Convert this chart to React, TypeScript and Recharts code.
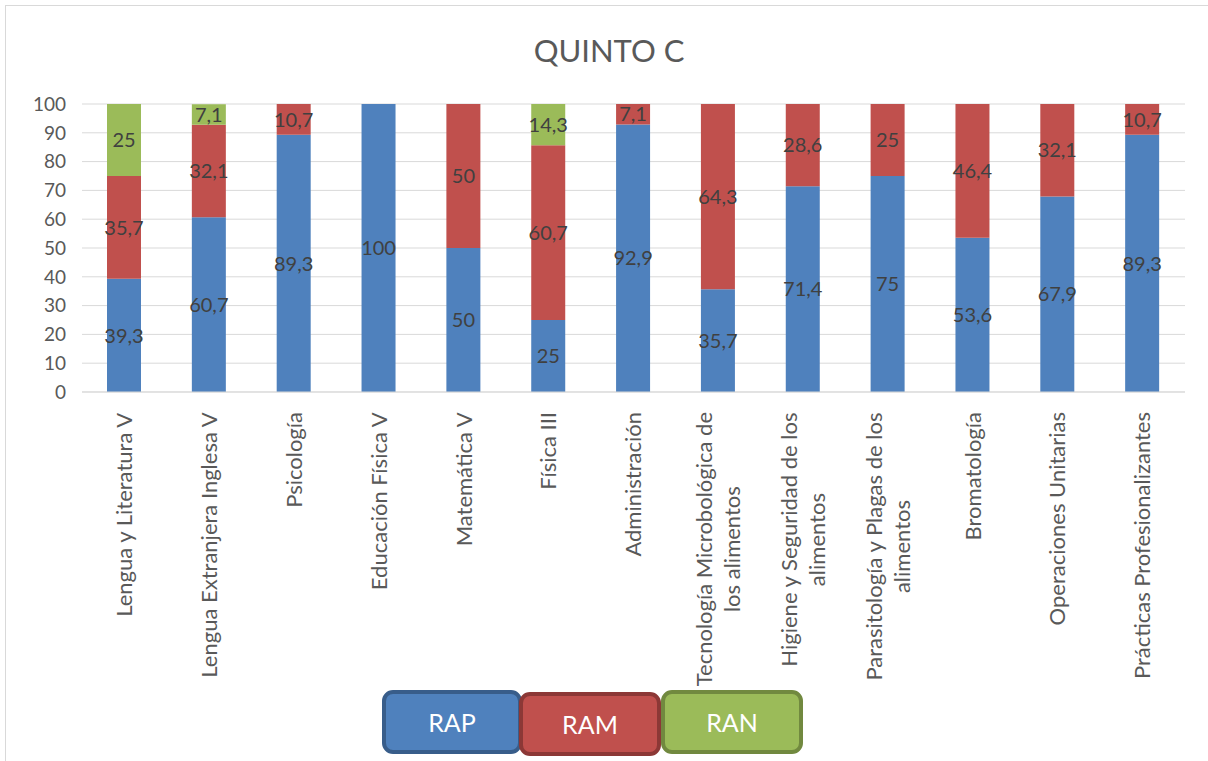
import { BarChart, Bar, XAxis, YAxis, CartesianGrid, Legend, LabelList } from 'recharts';

const categories = [
  'Lengua y Literatura V',
  'Lengua Extranjera Inglesa V',
  'Psicología',
  'Educación Física V',
  'Matemática V',
  'Física III',
  'Administración',
  'Tecnología Microbológica de los alimentos',
  'Higiene y Seguridad de los alimentos',
  'Parasitología y Plagas de los alimentos',
  'Bromatología',
  'Operaciones Unitarias',
  'Prácticas Profesionalizantes',
];

// how each category label wraps on the axis
const tickLines = [
  ['Lengua y Literatura V'],
  ['Lengua Extranjera Inglesa V'],
  ['Psicología'],
  ['Educación Física V'],
  ['Matemática V'],
  ['Física III'],
  ['Administración'],
  ['Tecnología Microbológica de', 'los alimentos'],
  ['Higiene y Seguridad de los', 'alimentos'],
  ['Parasitología y Plagas de los', 'alimentos'],
  ['Bromatología'],
  ['Operaciones Unitarias'],
  ['Prácticas Profesionalizantes'],
];

const rap = [39.3, 60.7, 89.3, 100, 50, 25, 92.9, 35.7, 71.4, 75, 53.6, 67.9, 89.3];
const ram = [35.7, 32.1, 10.7, 0, 50, 60.7, 7.1, 64.3, 28.6, 25, 46.4, 32.1, 10.7];
const ran = [25, 7.1, 0, 0, 0, 14.3, 0, 0, 0, 0, 0, 0, 0];

const yTicks = [0, 10, 20, 30, 40, 50, 60, 70, 80, 90, 100];

const data = categories.map((name, i) => ({ name, RAP: rap[i], RAM: ram[i], RAN: ran[i] }));

const FONT = 'Lato, "Open Sans", sans-serif';
const TEXT = '#595959';

const series = [
  { key: 'RAP', fill: '#4F81BD', border: '#385D8A' },
  { key: 'RAM', fill: '#C0504D', border: '#8C3836' },
  { key: 'RAN', fill: '#9BBB59', border: '#71893F' },
];

// legend boxes, placed like the original (they overlap slightly)
const legendBoxes = [
  { left: 0, top: 0, width: 140 },
  { left: 137, top: 2, width: 142 },
  { left: 279, top: 0, width: 142 },
];

let ctx: CanvasRenderingContext2D | null = null;
function textWidth(s: string, size: number) {
  if (!ctx) ctx = document.createElement('canvas').getContext('2d');
  if (!ctx) return s.length * size * 0.5;
  ctx.font = `${size}px Lato`;
  return ctx.measureText(s).width;
}

const XTick = (props: any) => {
  const { x, y, payload } = props;
  const idx = categories.indexOf(payload.value);
  const lines = tickLines[idx] || [String(payload.value)];
  const size = 22;
  const maxW = Math.max(...lines.map((l) => textWidth(l, size)));
  const cx = -(18 + maxW / 2);
  return (
    <g transform={`translate(${x},${y})`}>
      {lines.map((l, i) => (
        <text
          key={i}
          transform="rotate(-90)"
          x={cx}
          y={(i - (lines.length - 1) / 2) * 28}
          dy="0.35em"
          textAnchor="middle"
          fontSize={size}
          fill={TEXT}
          fontFamily={FONT}
        >
          {l}
        </text>
      ))}
    </g>
  );
};

const fmt = (v: any) => (v ? String(v).replace('.', ',') : '');

const LegendBoxes = () => (
  <div style={{ position: 'relative', width: 422, height: 66 }}>
    {series.map((s, i) => (
      <div
        key={s.key}
        style={{
          position: 'absolute',
          left: legendBoxes[i].left,
          top: legendBoxes[i].top,
          width: legendBoxes[i].width,
          height: 64,
          boxSizing: 'border-box',
          background: s.fill,
          border: `4px solid ${s.border}`,
          borderRadius: 11,
          color: '#fff',
          fontFamily: FONT,
          fontSize: 25,
          display: 'flex',
          alignItems: 'center',
          justifyContent: 'center',
        }}
      >
        {s.key}
      </div>
    ))}
  </div>
);

export default function App() {
  return (
    <div style={{ position: 'absolute', left: 0, top: 0, width: 1208, height: 761, background: '#fff', overflow: 'hidden' }}>
      <div style={{ position: 'absolute', left: 5, top: 5, width: 1220, height: 780, border: '1px solid #D9D9D9' }} />
      <div
        style={{
          position: 'absolute',
          left: 0,
          width: 1218,
          top: 30,
          textAlign: 'center',
          fontFamily: FONT,
          fontSize: 31,
          color: TEXT,
          lineHeight: '40px',
        }}
      >
        QUINTO C
      </div>
      <BarChart
        width={1208}
        height={761}
        data={data}
        margin={{ top: 104, right: 23, left: 0, bottom: 0 }}
        barSize={34}
        style={{ position: 'absolute', left: 0, top: 0 }}
      >
        <CartesianGrid vertical={false} stroke="#D9D9D9" />
        <XAxis
          dataKey="name"
          interval={0}
          height={369}
          tick={<XTick />}
          tickLine={false}
          tickSize={0}
          axisLine={{ stroke: '#D9D9D9' }}
        />
        <YAxis
          width={82}
          domain={[0, 100]}
          ticks={yTicks}
          axisLine={false}
          tickLine={false}
          tickSize={0}
          tickMargin={16}
          tick={{ fill: TEXT, fontSize: 19, fontFamily: FONT }}
        />
        <Legend
          layout="horizontal"
          verticalAlign="middle"
          content={() => <LegendBoxes />}
          wrapperStyle={{ position: 'absolute', left: 382, top: 690, width: 422, height: 66 }}
        />
        {series.map((s) => (
          <Bar key={s.key} dataKey={s.key} stackId="a" fill={s.fill} isAnimationActive={false}>
            <LabelList
              dataKey={s.key}
              position="center"
              formatter={fmt}
              fill="#404040"
              fontSize={20}
              fontFamily={FONT}
            />
          </Bar>
        ))}
      </BarChart>
    </div>
  );
}
